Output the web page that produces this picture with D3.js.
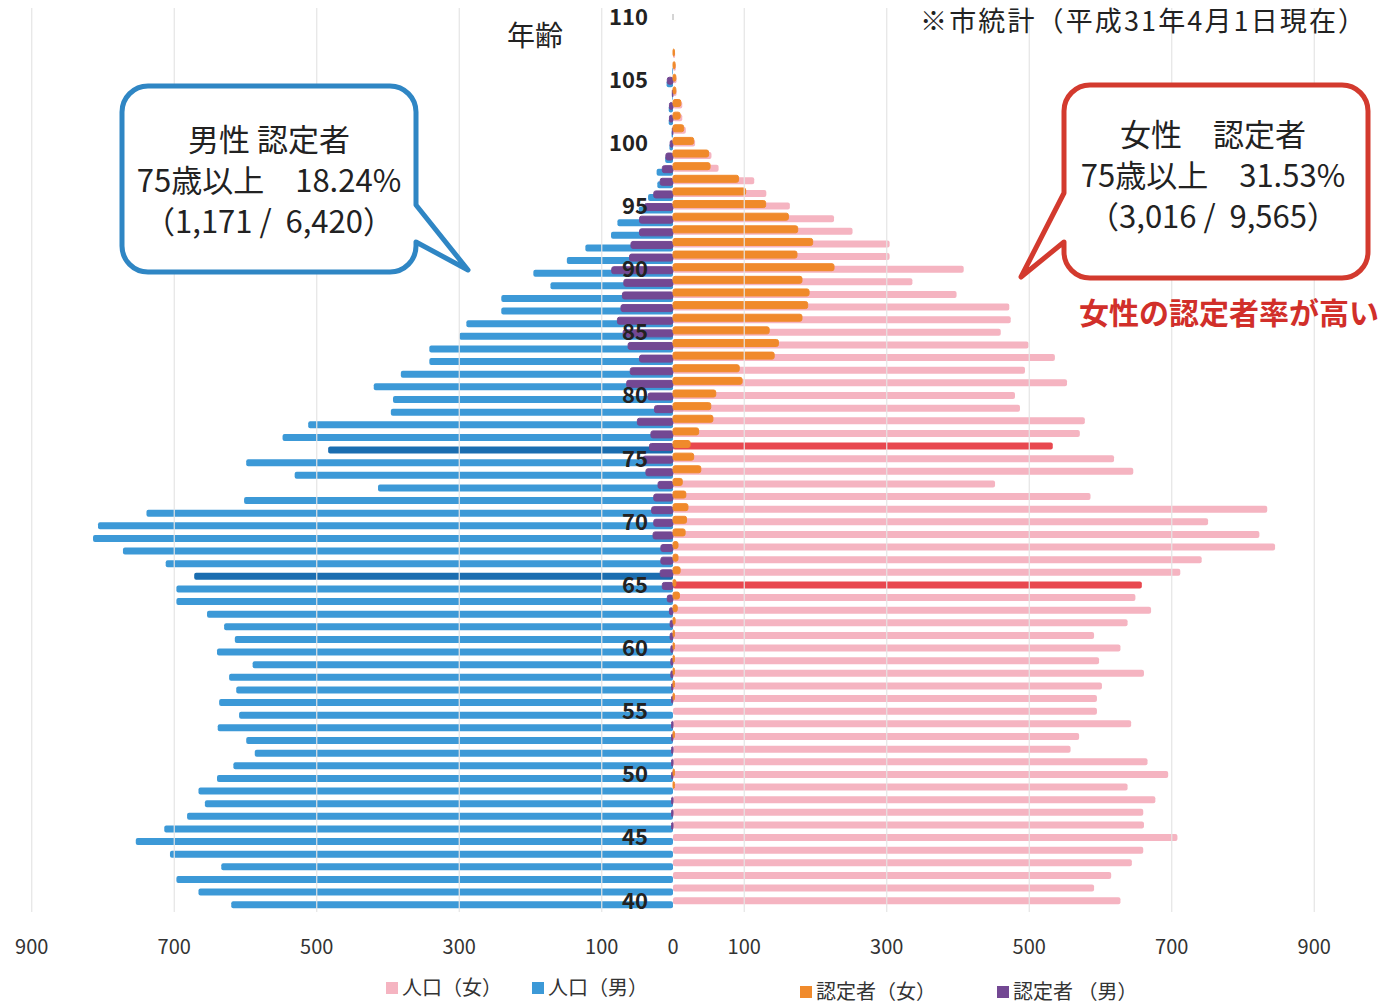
<!DOCTYPE html>
<html>
<head>
<meta charset="utf-8">
<script src="https://cdn.jsdelivr.net/npm/d3@7"></script>
<style>
  html, body { margin: 0; padding: 0; background: #fff; }
  svg { display: block; }
  text { font-family: "Noto Sans CJK JP", "Noto Sans", sans-serif; }
</style>
</head>
<body>
<script>
// ages 40 .. 110
const ages = d3.range(40, 111);

// 人口（男）
const malePop = [
  620, 666, 697, 634, 706, 754, 714, 682, 657, 666,
  640, 617, 587, 599, 639, 609, 637, 613, 623, 590,
  640, 615, 630, 654, 697, 697, 672, 712, 772, 814,
  807, 739, 602, 414, 531, 599, 484, 548, 512, 396,
  393, 420, 382, 342, 342, 300, 290, 241, 241, 172,
  196, 149, 123, 87, 78, 48, 35, 22, 23, 11,
  5, 2, 6, 6, 1, 9, 1, 0, 0, 0, 0
];

// 人口（女）
const femalePop = [
  628, 591, 615, 644, 660, 708, 661, 660, 677, 638,
  695, 666, 558, 570, 643, 595, 595, 602, 661, 598,
  628, 591, 638, 671, 649, 658, 712, 742, 845, 823,
  751, 834, 586, 452, 646, 619, 533, 571, 578, 487,
  480, 553, 494, 536, 499, 460, 474, 472, 398, 336,
  408, 304, 304, 252, 226, 164, 131, 114, 64, 54,
  31, 18, 13, 13, 5, 5, 4, 3, 0, 0, 0
];

// 認定者（男）
const maleCert = [
  0, 0, 0, 0, 0, 0, 2, 2, 2, 0,
  2, 2, 2, 2, 2, 0, 2, 2, 3, 3,
  3, 4, 4, 5, 8, 15, 18, 17, 17, 28,
  27, 30, 27, 21, 38, 42, 33, 31, 50, 26,
  35, 65, 60, 47, 63, 70, 78, 73, 71, 69,
  86, 61, 59, 47, 47, 40, 27, 18, 15, 10,
  4, 1, 5, 5, 1, 8, 0, 0, 0, 0, 0
];

// 認定者（女）
const femaleCert = [
  0, 0, 0, 0, 0, 0, 0, 0, 0, 2,
  2, 0, 0, 2, 0, 0, 2, 2, 2, 2,
  2, 2, 3, 6, 9, 4, 10, 7, 7, 17,
  19, 21, 18, 13, 39, 29, 24, 36, 56, 53,
  60, 97, 93, 142, 148, 135, 181, 189, 191, 181,
  226, 174, 196, 175, 162, 130, 102, 92, 52, 50,
  29, 15, 10, 11, 4, 4, 3, 2, 0, 0, 0
];

// highlighted rows
const maleHighlight = [76, 66];
const femaleHighlight = [76, 65];

const ageTicks = [40, 45, 50, 55, 60, 65, 70, 75, 80, 85, 90, 95, 100, 105, 110];
const gridValues = [100, 300, 500, 700, 900];
const legendItems = ['人口（女）', '人口（男）', '認定者（女）', '認定者 （男）'];

const W = 1399, H = 1005;
const cx = 673;

const svg = d3.select('body').append('svg')
  .attr('width', W)
  .attr('height', H);

const x = d3.scaleLinear().domain([0, 900]).range([0, 641.25]);
const y = d3.scaleBand()
  .domain(ages.slice().reverse())
  .range([10.3, 907.0]);
const mid = a => y(a) + y.bandwidth() / 2;

const colors = {
  blue: '#3c99d7',
  blueDark: '#1a6db0',
  pink: '#f5b4c1',
  red: '#e8484f',
  orange: '#f08a2b',
  purple: '#734893'
};

const rows = ages.map((a, i) => ({
  age: a,
  mp: malePop[i],
  fp: femalePop[i],
  mc: maleCert[i],
  fc: femaleCert[i]
}));

const barH = 7;

// population bars
svg.append('g')
  .selectAll('rect')
  .data(rows.filter(d => d.mp > 0))
  .join('rect')
  .attr('x', d => cx - x(d.mp))
  .attr('y', d => mid(d.age) + 4 - barH / 2)
  .attr('width', d => x(d.mp))
  .attr('height', barH)
  .attr('rx', 2)
  .attr('fill', d => maleHighlight.includes(d.age) ? colors.blueDark : colors.blue);

svg.append('g')
  .selectAll('rect')
  .data(rows.filter(d => d.fp > 0))
  .join('rect')
  .attr('x', cx)
  .attr('y', d => mid(d.age) - barH / 2)
  .attr('width', d => x(d.fp))
  .attr('height', barH)
  .attr('rx', 2)
  .attr('fill', d => femaleHighlight.includes(d.age) ? colors.red : colors.pink);

// certified bars
svg.append('g')
  .selectAll('rect')
  .data(rows.filter(d => d.mc > 0))
  .join('rect')
  .attr('x', d => cx - x(d.mc))
  .attr('y', d => mid(d.age) + 1 - 3.5)
  .attr('width', d => x(d.mc))
  .attr('height', 7)
  .attr('rx', 2)
  .attr('fill', colors.purple)
  .attr('stroke', colors.purple)
  .attr('stroke-width', 1);

svg.append('g')
  .selectAll('rect')
  .data(rows.filter(d => d.fc > 0))
  .join('rect')
  .attr('x', cx)
  .attr('y', d => mid(d.age) - 2 - 3.5)
  .attr('width', d => x(d.fc))
  .attr('height', 7)
  .attr('rx', 2)
  .attr('fill', colors.orange)
  .attr('stroke', colors.orange)
  .attr('stroke-width', 1);

// grid lines (drawn over bars, faint)
const grid = svg.append('g');
gridValues.forEach(v => {
  [cx - x(v), cx + x(v)].forEach(gx => {
    grid.append('line')
      .attr('x1', gx).attr('x2', gx)
      .attr('y1', 8).attr('y2', 912)
      .attr('stroke', '#e4e4e4')
      .attr('stroke-width', 1.2);
  });
});
grid.append('line')
  .attr('x1', cx).attr('x2', cx)
  .attr('y1', 14).attr('y2', 20)
  .attr('stroke', '#aaa');

// bottom value labels
const bottomTicks = [-900, -700, -500, -300, -100, 0, 100, 300, 500, 700, 900];
svg.append('g')
  .selectAll('text')
  .data(bottomTicks)
  .join('text')
  .attr('x', d => d < 0 ? cx - x(-d) : cx + x(d))
  .attr('y', 954)
  .attr('text-anchor', 'middle')
  .attr('font-family', '"Noto Sans", sans-serif')
  .attr('font-size', 20)
  .attr('fill', '#333')
  .text(d => Math.abs(d));

// age labels
svg.append('g')
  .selectAll('text')
  .data(ageTicks)
  .join('text')
  .attr('x', 648)
  .attr('y', d => mid(d))
  .attr('dy', '0.36em')
  .attr('text-anchor', 'end')
  .attr('font-family', '"Noto Sans", sans-serif')
  .attr('font-size', 22)
  .attr('font-weight', 600)
  .attr('fill', '#222')
  .text(d => d);

svg.append('text')
  .attr('x', 535).attr('y', 46)
  .attr('text-anchor', 'middle')
  .attr('font-size', 28)
  .attr('fill', '#222')
  .text('年齢');

svg.append('text')
  .attr('x', 920).attr('y', 31)
  .attr('font-size', 27)
  .attr('fill', '#222')
  .attr('textLength', 445)
  .attr('lengthAdjust', 'spacing')
  .text('※市統計（平成31年4月1日現在）');

// callouts
function bubble(x0, y0, x1, y1, r, side, t0, t1, tip) {
  let p = `M${x0 + r},${y0} H${x1 - r} A${r},${r} 0 0 1 ${x1},${y0 + r}`;
  if (side === 'right') {
    p += ` V${t0} L${tip[0]},${tip[1]} L${x1},${t1}`;
  }
  p += ` V${y1 - r} A${r},${r} 0 0 1 ${x1 - r},${y1} H${x0 + r} A${r},${r} 0 0 1 ${x0},${y1 - r}`;
  if (side === 'left') {
    p += ` V${t1} L${tip[0]},${tip[1]} L${x0},${t0}`;
  }
  p += ` V${y0 + r} A${r},${r} 0 0 1 ${x0 + r},${y0} Z`;
  return p;
}

svg.append('path')
  .attr('d', bubble(122, 86, 416, 272, 26, 'right', 205, 242, [468, 270]))
  .attr('fill', '#fff')
  .attr('stroke', '#2f86c4')
  .attr('stroke-width', 5)
  .attr('stroke-linejoin', 'round');

svg.append('path')
  .attr('d', bubble(1064, 85, 1368, 278, 26, 'left', 193, 242, [1021, 277]))
  .attr('fill', '#fff')
  .attr('stroke', '#d33a2e')
  .attr('stroke-width', 5)
  .attr('stroke-linejoin', 'round');

const leftLines = ['男性 認定者', '75歳以上　18.24%', '（1,171 /  6,420）'];
const rightLines = ['女性　認定者', '75歳以上　31.53%', '（3,016 /  9,565）'];

svg.append('g')
  .selectAll('text')
  .data(leftLines)
  .join('text')
  .attr('x', 269)
  .attr('y', (d, i) => 151 + i * 41)
  .attr('text-anchor', 'middle')
  .attr('font-size', 31)
  .attr('fill', '#222')
  .style('white-space', 'pre')
  .text(d => d);

svg.append('g')
  .selectAll('text')
  .data(rightLines)
  .join('text')
  .attr('x', 1213)
  .attr('y', (d, i) => 146 + i * 41)
  .attr('text-anchor', 'middle')
  .attr('font-size', 31)
  .attr('fill', '#222')
  .style('white-space', 'pre')
  .text(d => d);

svg.append('text')
  .attr('x', 1229).attr('y', 324)
  .attr('text-anchor', 'middle')
  .attr('font-size', 30)
  .attr('font-weight', 700)
  .attr('fill', '#d12f2a')
  .text('女性の認定者率が高い');

// legend
const legendX = [386, 532, 800, 997];
const legendY = [988, 988, 992, 992];
const legendColors = [colors.pink, colors.blue, colors.orange, colors.purple];
const lg = svg.append('g');
legendItems.forEach((t, i) => {
  lg.append('rect')
    .attr('x', legendX[i]).attr('y', legendY[i] - 6)
    .attr('width', 12).attr('height', 12)
    .attr('fill', legendColors[i]);
  lg.append('text')
    .attr('x', legendX[i] + 16).attr('y', legendY[i])
    .attr('dy', '0.36em')
    .attr('font-size', 20)
    .attr('fill', '#333')
    .style('white-space', 'pre')
    .text(t);
});
</script>
</body>
</html>
